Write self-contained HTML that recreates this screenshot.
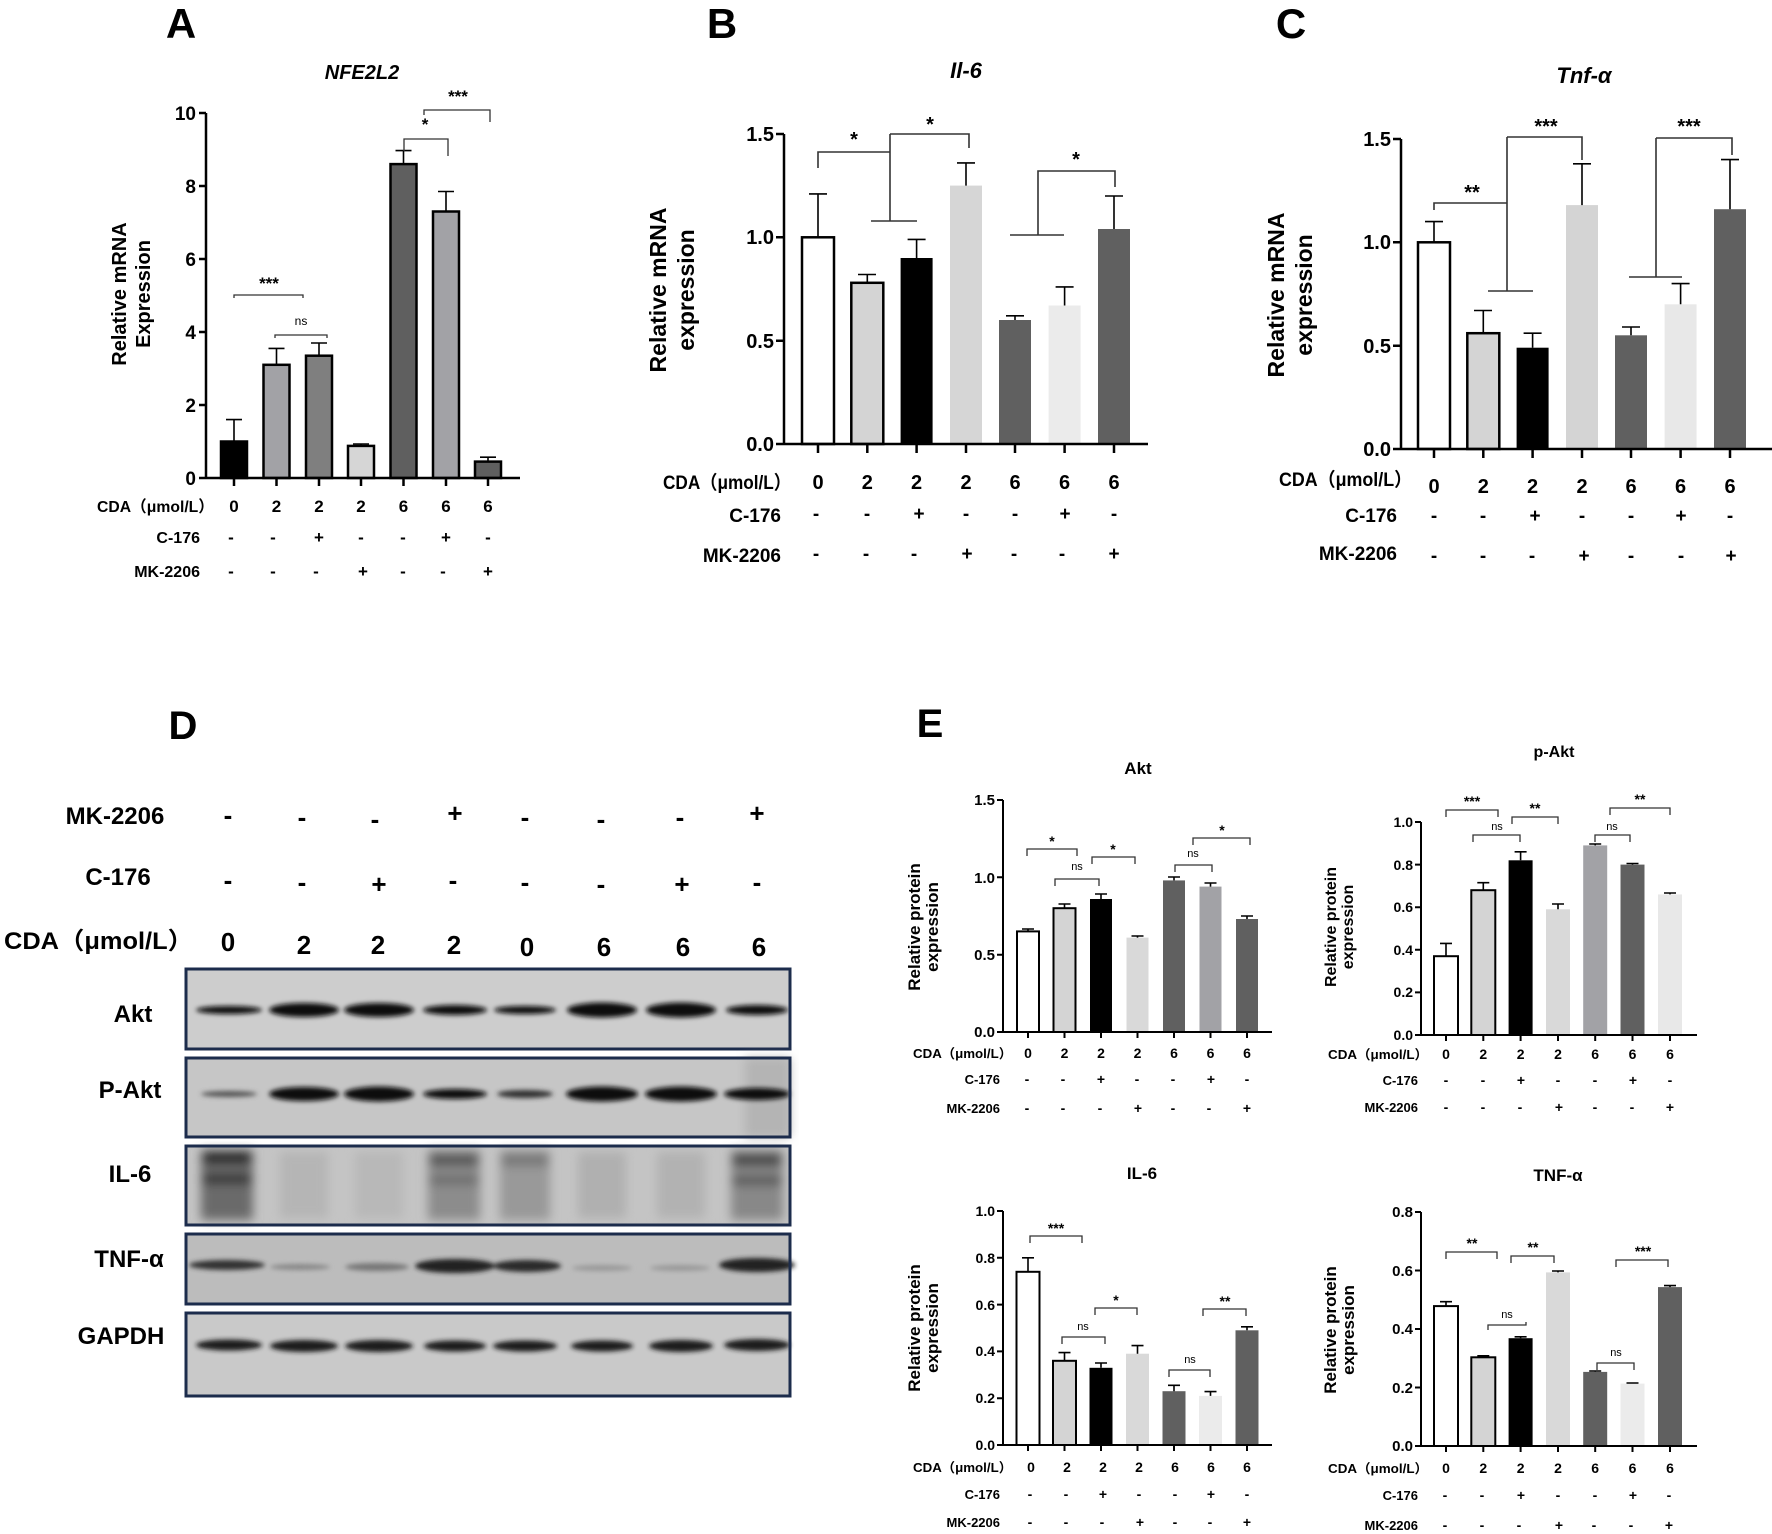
<!DOCTYPE html>
<html><head><meta charset="utf-8"><style>
html,body{margin:0;padding:0;background:#fff}
svg{display:block}
text{font-family:"Liberation Sans","Noto Sans CJK SC",sans-serif;font-weight:bold;fill:#000}
.ax{stroke:#000;stroke-width:2.5;fill:none}
.ln{stroke:#000;stroke-width:1.6;fill:none}
.br{stroke:#333;stroke-width:1.3;fill:none}
</style></head><body>
<svg width="1772" height="1534" viewBox="0 0 1772 1534" xmlns="http://www.w3.org/2000/svg">
<defs>
<filter id="bl" x="-20%" y="-100%" width="140%" height="300%"><feGaussianBlur stdDeviation="2.5"/></filter>
<filter id="bl2" x="-20%" y="-100%" width="140%" height="300%"><feGaussianBlur stdDeviation="5"/></filter>
</defs>

<!-- ========== A ========== -->
<text x="181" y="38" font-size="42" text-anchor="middle">A</text>
<text x="362" y="79" font-size="20" font-style="italic" text-anchor="middle">NFE2L2</text>
<g transform="translate(132,294) rotate(-90)"><text x="0" y="-6" font-size="20" text-anchor="middle">Relative mRNA</text><text x="0" y="18" font-size="20" text-anchor="middle">Expression</text></g>
<g>
<rect x="221" y="441.5" width="26" height="36.5" fill="#000" stroke="#000" stroke-width="2.5"/>
<rect x="263.5" y="364.8" width="26" height="113.2" fill="#a2a2a6" stroke="#000" stroke-width="2.5"/>
<rect x="306" y="355.7" width="26" height="122.3" fill="#7f7f7f" stroke="#000" stroke-width="2.5"/>
<rect x="348" y="445.9" width="26" height="32.1" fill="#d6d6d6" stroke="#000" stroke-width="2.5"/>
<rect x="390.5" y="164.1" width="26" height="313.9" fill="#5f5f5f" stroke="#000" stroke-width="2.5"/>
<rect x="433" y="211.5" width="26" height="266.5" fill="#a2a2a6" stroke="#000" stroke-width="2.5"/>
<rect x="475" y="461.6" width="26" height="16.4" fill="#5f5f5f" stroke="#000" stroke-width="2.5"/>
<path class="ln" d="M234 441.5V419.6M226 419.6H242 M276.5 364.8V348.4M268.5 348.4H284.5 M319 355.7V343M311 343H327 M361 445.9V444M353 444H369 M403.5 164.1V150.6M395.5 150.6H411.5 M446 211.5V191.5M438 191.5H454 M488 461.6V457.2M480 457.2H496"/>
</g>
<path class="ax" d="M206 113V478H520 M199 478H206M199 405H206M199 332H206M199 259H206M199 186H206M199 113H206 M234 478V486M276.5 478V486M319 478V486M361 478V486M403.5 478V486M446 478V486M488 478V486"/>
<g font-size="19" text-anchor="end"><text x="196" y="485">0</text><text x="196" y="412">2</text><text x="196" y="339">4</text><text x="196" y="266">6</text><text x="196" y="193">8</text><text x="196" y="120">10</text></g>
<path class="br" d="M234 298V295H303V298 M275 338V335H327V338 M404 151V139H448V156 M424 115V110H490V122"/>
<g font-size="17" text-anchor="middle"><text x="269" y="289">***</text><text x="425" y="130">*</text><text x="458" y="102">***</text></g>
<text x="301" y="325" font-size="12" text-anchor="middle" style="font-weight:normal">ns</text>
<g font-size="16" text-anchor="end"><text x="214" y="512" textLength="117" lengthAdjust="spacingAndGlyphs">CDA（μmol/L）</text><text x="200" y="543">C-176</text><text x="200" y="577">MK-2206</text></g>
<g font-size="17" text-anchor="middle"><text x="234" y="512">0</text><text x="276.5" y="512">2</text><text x="319" y="512">2</text><text x="361" y="512">2</text><text x="403.5" y="512">6</text><text x="446" y="512">6</text><text x="488" y="512">6</text>
<text x="231" y="543">-</text><text x="273" y="543">-</text><text x="319" y="543">+</text><text x="361" y="543">-</text><text x="403" y="543">-</text><text x="446" y="543">+</text><text x="488" y="543">-</text>
<text x="231" y="577">-</text><text x="273" y="577">-</text><text x="316" y="577">-</text><text x="363" y="577">+</text><text x="403" y="577">-</text><text x="443" y="577">-</text><text x="488" y="577">+</text></g>

<!-- ========== B ========== -->
<text x="722" y="38" font-size="42" text-anchor="middle">B</text>
<text x="966" y="78" font-size="22" font-style="italic" text-anchor="middle">Il-6</text>
<g transform="translate(672,290) rotate(-90)"><text x="0" y="-6" font-size="23" text-anchor="middle">Relative mRNA</text><text x="0" y="22" font-size="23" text-anchor="middle">expression</text></g>
<rect x="802" y="237.3" width="32" height="206.7" fill="#fff" stroke="#000" stroke-width="2.5"/>
<rect x="851.3" y="282.8" width="32" height="161.2" fill="#d4d4d4" stroke="#000" stroke-width="2.5"/>
<rect x="900.6" y="258" width="32" height="186" fill="#000"/>
<rect x="950" y="185.6" width="32" height="258.4" fill="#d6d6d6"/>
<rect x="999" y="320" width="32" height="124" fill="#606060"/>
<rect x="1048.6" y="305.5" width="32" height="138.5" fill="#ebebeb"/>
<rect x="1098" y="229" width="32" height="215" fill="#606060"/>
<path class="ln" d="M818 237.3V193.9M809 193.9H827 M867.3 282.8V274.5M858 274.5H876 M916.6 258V239.4M907.6 239.4H925.6 M966 185.6V162.9M957 162.9H975 M1015 320V315.8M1006 315.8H1024 M1064.6 305.5V286.9M1055.6 286.9H1073.6 M1114 229V196M1105 196H1123"/>
<path class="ax" d="M784 134V444H1148 M776 444H784M776 340.7H784M776 237.3H784M776 134H784 M818 444V453M867.3 444V453M916.6 444V453M966 444V453M1015 444V453M1064.6 444V453M1114 444V453"/>
<g font-size="20" text-anchor="end"><text x="774" y="451">0.0</text><text x="774" y="348">0.5</text><text x="774" y="244">1.0</text><text x="774" y="141">1.5</text></g>
<path class="br" d="M818 168V152H890 M890 134V221M871 221H917 M890 134H969V148 M1010 235H1064M1038 235V171H1115V187" style="stroke-width:1.6"/>
<g font-size="20" text-anchor="middle"><text x="854" y="146">*</text><text x="930" y="131">*</text><text x="1076" y="166">*</text></g>
<g font-size="19" text-anchor="end"><text x="791" y="489" textLength="128" lengthAdjust="spacingAndGlyphs">CDA（μmol/L）</text><text x="781" y="522">C-176</text><text x="781" y="562">MK-2206</text></g>
<g font-size="20" text-anchor="middle"><text x="818" y="489">0</text><text x="867.3" y="489">2</text><text x="916.6" y="489">2</text><text x="966" y="489">2</text><text x="1015" y="489">6</text><text x="1064.6" y="489">6</text><text x="1114" y="489">6</text></g>
<g font-size="19" text-anchor="middle"><text x="816" y="520">-</text><text x="867" y="520">-</text><text x="919" y="520">+</text><text x="966" y="520">-</text><text x="1015" y="520">-</text><text x="1065" y="520">+</text><text x="1114" y="520">-</text>
<text x="816" y="560">-</text><text x="866" y="560">-</text><text x="914" y="560">-</text><text x="967" y="560">+</text><text x="1014" y="560">-</text><text x="1062" y="560">-</text><text x="1114" y="560">+</text></g>

<!-- ========== C ========== -->
<text x="1291" y="38" font-size="42" text-anchor="middle">C</text>
<text x="1584" y="83" font-size="22" font-style="italic" text-anchor="middle">Tnf-α</text>
<g transform="translate(1290,295) rotate(-90)"><text x="0" y="-6" font-size="23" text-anchor="middle">Relative mRNA</text><text x="0" y="22" font-size="23" text-anchor="middle">expression</text></g>
<rect x="1418" y="242.3" width="32" height="206.7" fill="#fff" stroke="#000" stroke-width="2.5"/>
<rect x="1467.3" y="333.2" width="32" height="115.8" fill="#d4d4d4" stroke="#000" stroke-width="2.5"/>
<rect x="1516.6" y="347.7" width="32" height="101.3" fill="#000"/>
<rect x="1566" y="205.1" width="32" height="243.9" fill="#d4d4d4"/>
<rect x="1615" y="335.3" width="32" height="113.7" fill="#606060"/>
<rect x="1664.6" y="304.3" width="32" height="144.7" fill="#e8e8e8"/>
<rect x="1714" y="209.2" width="32" height="239.8" fill="#606060"/>
<path class="ln" d="M1434 242.3V221.6M1425 221.6H1443 M1483.3 333.2V310.5M1474 310.5H1492 M1532.6 347.7V333.2M1523.6 333.2H1541.6 M1582 205.1V163.8M1573 163.8H1591 M1631 335.3V327M1622 327H1640 M1680.6 304.3V283.6M1671.6 283.6H1689.6 M1730 209.2V159.6M1721 159.6H1739"/>
<path class="ax" d="M1401 139V449H1772 M1393 449H1401M1393 345.7H1401M1393 242.3H1401M1393 139H1401 M1434 449V458M1483.3 449V458M1532.6 449V458M1582 449V458M1631 449V458M1680.6 449V458M1730 449V458"/>
<g font-size="20" text-anchor="end"><text x="1391" y="456">0.0</text><text x="1391" y="353">0.5</text><text x="1391" y="249">1.0</text><text x="1391" y="146">1.5</text></g>
<path class="br" d="M1434 210V203H1507 M1507 137V291M1488 291H1533 M1507 137H1582V160 M1656 138V277M1629 277H1682 M1656 138H1732V155" style="stroke-width:1.6"/>
<g font-size="20" text-anchor="middle"><text x="1472" y="199">**</text><text x="1546" y="133">***</text><text x="1689" y="133">***</text></g>
<g font-size="19" text-anchor="end"><text x="1412" y="486" textLength="133" lengthAdjust="spacingAndGlyphs">CDA（μmol/L）</text><text x="1397" y="522">C-176</text><text x="1397" y="560">MK-2206</text></g>
<g font-size="20" text-anchor="middle"><text x="1434" y="493">0</text><text x="1483.3" y="493">2</text><text x="1532.6" y="493">2</text><text x="1582" y="493">2</text><text x="1631" y="493">6</text><text x="1680.6" y="493">6</text><text x="1730" y="493">6</text></g>
<g font-size="19" text-anchor="middle"><text x="1434" y="522">-</text><text x="1483" y="522">-</text><text x="1535" y="522">+</text><text x="1582" y="522">-</text><text x="1631" y="522">-</text><text x="1681" y="522">+</text><text x="1730" y="522">-</text>
<text x="1434" y="562">-</text><text x="1483" y="562">-</text><text x="1532" y="562">-</text><text x="1584" y="562">+</text><text x="1631" y="562">-</text><text x="1681" y="562">-</text><text x="1731" y="562">+</text></g>

<!-- ========== D ========== -->
<text x="183" y="739" font-size="40" text-anchor="middle">D</text>
<g font-size="24" text-anchor="middle"><text x="115" y="824">MK-2206</text><text x="118" y="885">C-176</text></g>
<text x="4" y="949" font-size="24" textLength="189" lengthAdjust="spacingAndGlyphs">CDA（μmol/L）</text>
<g font-size="26" text-anchor="middle">
<text x="228" y="824">-</text><text x="302" y="826">-</text><text x="375" y="828">-</text><text x="455" y="822">+</text><text x="525" y="826">-</text><text x="601" y="828">-</text><text x="680" y="826">-</text><text x="757" y="822">+</text>
<text x="228" y="889">-</text><text x="302" y="891">-</text><text x="379" y="893">+</text><text x="453" y="889">-</text><text x="525" y="891">-</text><text x="601" y="893">-</text><text x="682" y="893">+</text><text x="757" y="891">-</text>
<text x="228" y="951">0</text><text x="304" y="954">2</text><text x="378" y="954">2</text><text x="454" y="954">2</text><text x="527" y="956">0</text><text x="604" y="956">6</text><text x="683" y="956">6</text><text x="759" y="956">6</text></g>
<g font-size="24" text-anchor="middle"><text x="133" y="1022">Akt</text><text x="130" y="1098">P-Akt</text><text x="130" y="1182">IL-6</text><text x="129" y="1267">TNF-α</text><text x="121" y="1344">GAPDH</text></g>
<!-- blots -->
<rect x="186" y="969" width="604" height="80" fill="#cdcdcd"/>
<g fill="#111" filter="url(#bl)">
<ellipse cx="229" cy="1010" rx="33" ry="4"/><ellipse cx="304" cy="1010" rx="35" ry="7"/><ellipse cx="379" cy="1010" rx="35" ry="7"/><ellipse cx="455" cy="1010" rx="32" ry="5"/><ellipse cx="525" cy="1010" rx="31" ry="4"/><ellipse cx="602" cy="1010" rx="35" ry="7.5"/><ellipse cx="681" cy="1010" rx="35" ry="7.5"/><ellipse cx="757" cy="1010" rx="31" ry="5"/></g>
<rect x="186" y="969" width="604" height="80" fill="none" stroke="#1c2c4c" stroke-width="3"/>
<rect x="186" y="1058" width="604" height="79" fill="#c6c6c6"/>
<rect x="745" y="1058" width="45" height="79" fill="#b4b4b4" filter="url(#bl2)"/>
<g fill="#111" filter="url(#bl)">
<ellipse cx="229" cy="1094" rx="28" ry="3" fill="#555"/><ellipse cx="304" cy="1094" rx="35" ry="7"/><ellipse cx="379" cy="1094" rx="35" ry="7.5"/><ellipse cx="455" cy="1094" rx="32" ry="5"/><ellipse cx="525" cy="1094" rx="28" ry="4" fill="#333"/><ellipse cx="602" cy="1094" rx="36" ry="7.5"/><ellipse cx="681" cy="1094" rx="36" ry="7.5"/><ellipse cx="757" cy="1094" rx="33" ry="6"/></g>
<rect x="186" y="1058" width="604" height="79" fill="none" stroke="#1c2c4c" stroke-width="3"/>
<rect x="186" y="1146" width="604" height="79" fill="#c4c4c4"/>
<g filter="url(#bl2)">
<rect x="201" y="1150" width="52" height="70" fill="#6a6a6a"/><rect x="203" y="1152" width="48" height="12" fill="#222"/><rect x="203" y="1174" width="48" height="10" fill="#333"/>
<rect x="280" y="1152" width="48" height="66" fill="#b5b5b5"/><rect x="355" y="1152" width="48" height="66" fill="#b8b8b8"/>
<rect x="428" y="1150" width="52" height="70" fill="#8c8c8c"/><rect x="430" y="1154" width="48" height="12" fill="#555"/><rect x="430" y="1176" width="48" height="8" fill="#666"/>
<rect x="500" y="1150" width="50" height="70" fill="#999"/><rect x="502" y="1154" width="46" height="12" fill="#777"/>
<rect x="578" y="1152" width="48" height="66" fill="#b0b0b0"/><rect x="657" y="1152" width="48" height="66" fill="#b2b2b2"/>
<rect x="731" y="1150" width="52" height="70" fill="#888"/><rect x="733" y="1154" width="48" height="12" fill="#444"/><rect x="733" y="1176" width="48" height="9" fill="#555"/></g>
<rect x="186" y="1146" width="604" height="79" fill="none" stroke="#1c2c4c" stroke-width="3"/>
<rect x="186" y="1234" width="604" height="70" fill="#bcbcbc"/>
<g filter="url(#bl)">
<ellipse cx="227" cy="1265" rx="38" ry="5" fill="#333"/><ellipse cx="300" cy="1267" rx="30" ry="3" fill="#888"/><ellipse cx="377" cy="1267" rx="32" ry="4" fill="#777"/><ellipse cx="455" cy="1266" rx="40" ry="7" fill="#222"/><ellipse cx="527" cy="1266" rx="34" ry="6" fill="#2a2a2a"/><ellipse cx="602" cy="1268" rx="30" ry="3" fill="#999"/><ellipse cx="680" cy="1268" rx="30" ry="3" fill="#999"/><ellipse cx="757" cy="1265" rx="38" ry="7" fill="#222"/></g>
<rect x="186" y="1234" width="604" height="70" fill="none" stroke="#1c2c4c" stroke-width="3"/>
<rect x="186" y="1313" width="604" height="83" fill="#c9c9c9"/>
<g fill="#1a1a1a" filter="url(#bl)">
<ellipse cx="229" cy="1345" rx="33" ry="5.5"/><ellipse cx="304" cy="1346" rx="34" ry="6"/><ellipse cx="379" cy="1346" rx="34" ry="6"/><ellipse cx="455" cy="1346" rx="31" ry="5.5"/><ellipse cx="525" cy="1346" rx="32" ry="5.5"/><ellipse cx="602" cy="1346" rx="31" ry="5.5"/><ellipse cx="681" cy="1346" rx="32" ry="6"/><ellipse cx="757" cy="1345" rx="33" ry="6"/></g>
<rect x="186" y="1313" width="604" height="83" fill="none" stroke="#1c2c4c" stroke-width="3"/>

<!-- ========== E ========== -->
<text x="930" y="737" font-size="40" text-anchor="middle">E</text>
<!-- Akt -->
<text x="1138" y="774" font-size="17" text-anchor="middle">Akt</text>
<g transform="translate(924,927) rotate(-90)"><text x="0" y="-4" font-size="17" text-anchor="middle">Relative protein</text><text x="0" y="14" font-size="17" text-anchor="middle">expression</text></g>
<rect x="1017" y="931.4" width="22" height="100.6" fill="#fff" stroke="#000" stroke-width="2"/>
<rect x="1053.5" y="908.2" width="22" height="123.8" fill="#d4d4d4" stroke="#000" stroke-width="2"/>
<rect x="1090" y="899" width="22" height="133" fill="#000"/>
<rect x="1126.5" y="937.6" width="22" height="94.4" fill="#d9d9d9"/>
<rect x="1163" y="880.4" width="22" height="151.6" fill="#606060"/>
<rect x="1199.5" y="886.6" width="22" height="145.4" fill="#a2a2a6"/>
<rect x="1236" y="919" width="22" height="113" fill="#606060"/>
<path class="ln" d="M1028 931.4V929M1022 929H1034 M1064.5 908.2V904M1058.5 904H1070.5 M1101 899V894M1095 894H1107 M1137.5 937.6V936M1131.5 936H1143.5 M1174 880.4V877M1168 877H1180 M1210.5 886.6V883M1204.5 883H1216.5 M1247 919V916M1241 916H1253"/>
<path class="ax" style="stroke-width:2" d="M1003 800V1032H1272 M997 1032H1003M997 954.7H1003M997 877.3H1003M997 800H1003 M1028 1032V1038M1064.5 1032V1038M1101 1032V1038M1137.5 1032V1038M1174 1032V1038M1210.5 1032V1038M1247 1032V1038"/>
<g font-size="15" text-anchor="end"><text x="995" y="1037">0.0</text><text x="995" y="960">0.5</text><text x="995" y="883">1.0</text><text x="995" y="805">1.5</text></g>
<path class="br" d="M1027 856V849H1077V856 M1055 886V879H1099V886 M1092 864V857H1135V864 M1175 872V865H1212V872 M1193 845V838H1250V845"/>
<g font-size="14" text-anchor="middle"><text x="1052" y="846">*</text><text x="1113" y="854">*</text><text x="1222" y="835">*</text></g>
<g font-size="11" text-anchor="middle"><text x="1077" y="870" style="font-weight:normal">ns</text><text x="1193" y="857" style="font-weight:normal">ns</text></g>
<g font-size="13" text-anchor="end"><text x="1012" y="1058" textLength="99" lengthAdjust="spacingAndGlyphs">CDA（μmol/L）</text><text x="1000" y="1084">C-176</text><text x="1000" y="1113">MK-2206</text></g>
<g font-size="14" text-anchor="middle"><text x="1028" y="1058">0</text><text x="1064.5" y="1058">2</text><text x="1101" y="1058">2</text><text x="1137.5" y="1058">2</text><text x="1174" y="1058">6</text><text x="1210.5" y="1058">6</text><text x="1247" y="1058">6</text>
<text x="1027" y="1084">-</text><text x="1063" y="1084">-</text><text x="1101" y="1084">+</text><text x="1137" y="1084">-</text><text x="1173" y="1084">-</text><text x="1211" y="1084">+</text><text x="1247" y="1084">-</text>
<text x="1027" y="1113">-</text><text x="1063" y="1113">-</text><text x="1100" y="1113">-</text><text x="1138" y="1113">+</text><text x="1173" y="1113">-</text><text x="1209" y="1113">-</text><text x="1247" y="1113">+</text></g>

<!-- p-Akt -->
<text x="1554" y="757" font-size="16" text-anchor="middle">p-Akt</text>
<g transform="translate(1340,927) rotate(-90)"><text x="0" y="-4" font-size="16" text-anchor="middle">Relative protein</text><text x="0" y="13" font-size="16" text-anchor="middle">expression</text></g>
<rect x="1434" y="956.2" width="24" height="78.8" fill="#fff" stroke="#000" stroke-width="2"/>
<rect x="1471.3" y="890.2" width="24" height="144.8" fill="#d4d4d4" stroke="#000" stroke-width="2"/>
<rect x="1508.6" y="860.3" width="24" height="174.7" fill="#000"/>
<rect x="1546" y="909.3" width="24" height="125.7" fill="#d9d9d9"/>
<rect x="1583.2" y="845.4" width="24" height="189.6" fill="#a2a2a6"/>
<rect x="1620.5" y="864.6" width="24" height="170.4" fill="#606060"/>
<rect x="1658" y="894.4" width="24" height="140.6" fill="#e8e8e8"/>
<path class="ln" d="M1446 956.2V943.4M1440 943.4H1452 M1483.3 890.2V882.7M1477.3 882.7H1489.3 M1520.6 860.3V851.8M1514.6 851.8H1526.6 M1558 909.3V904M1552 904H1564 M1595.2 845.4V844M1589.2 844H1601.2 M1632.5 864.6V863.5M1626.5 863.5H1638.5 M1670 894.4V893M1664 893H1676"/>
<path class="ax" style="stroke-width:2" d="M1421 822V1035H1697 M1415 1035H1421M1415 992.4H1421M1415 949.8H1421M1415 907.2H1421M1415 864.6H1421M1415 822H1421 M1446 1035V1041M1483.3 1035V1041M1520.6 1035V1041M1558 1035V1041M1595.2 1035V1041M1632.5 1035V1041M1670 1035V1041"/>
<g font-size="14" text-anchor="end"><text x="1413" y="1040">0.0</text><text x="1413" y="997">0.2</text><text x="1413" y="955">0.4</text><text x="1413" y="912">0.6</text><text x="1413" y="870">0.8</text><text x="1413" y="827">1.0</text></g>
<path class="br" d="M1446 817V810H1498V817 M1473 842V835H1520V842 M1512 824V817H1558V824 M1595 842V835H1630V842 M1610 815V808H1670V815"/>
<g font-size="14" text-anchor="middle"><text x="1472" y="806">***</text><text x="1535" y="813">**</text><text x="1640" y="804">**</text></g>
<g font-size="11" text-anchor="middle"><text x="1497" y="830" style="font-weight:normal">ns</text><text x="1612" y="830" style="font-weight:normal">ns</text></g>
<g font-size="13" text-anchor="end"><text x="1428" y="1059" textLength="100" lengthAdjust="spacingAndGlyphs">CDA（μmol/L）</text><text x="1418" y="1085">C-176</text><text x="1418" y="1112">MK-2206</text></g>
<g font-size="14" text-anchor="middle"><text x="1446" y="1059">0</text><text x="1483.3" y="1059">2</text><text x="1520.6" y="1059">2</text><text x="1558" y="1059">2</text><text x="1595.2" y="1059">6</text><text x="1632.5" y="1059">6</text><text x="1670" y="1059">6</text>
<text x="1446" y="1085">-</text><text x="1483" y="1085">-</text><text x="1521" y="1085">+</text><text x="1558" y="1085">-</text><text x="1595" y="1085">-</text><text x="1633" y="1085">+</text><text x="1670" y="1085">-</text>
<text x="1446" y="1112">-</text><text x="1483" y="1112">-</text><text x="1520" y="1112">-</text><text x="1559" y="1112">+</text><text x="1595" y="1112">-</text><text x="1632" y="1112">-</text><text x="1670" y="1112">+</text></g>

<!-- IL-6 -->
<text x="1142" y="1179" font-size="17" text-anchor="middle">IL-6</text>
<g transform="translate(924,1328) rotate(-90)"><text x="0" y="-4" font-size="17" text-anchor="middle">Relative protein</text><text x="0" y="14" font-size="17" text-anchor="middle">expression</text></g>
<rect x="1016.5" y="1271.8" width="23" height="173.2" fill="#fff" stroke="#000" stroke-width="2"/>
<rect x="1053" y="1360.8" width="23" height="84.2" fill="#d4d4d4" stroke="#000" stroke-width="2"/>
<rect x="1089.5" y="1367.8" width="23" height="77.2" fill="#000"/>
<rect x="1126" y="1353.7" width="23" height="91.3" fill="#d9d9d9"/>
<rect x="1162.5" y="1391.2" width="23" height="53.8" fill="#606060"/>
<rect x="1199" y="1395.9" width="23" height="49.1" fill="#ebebeb"/>
<rect x="1235.5" y="1330.3" width="23" height="114.7" fill="#606060"/>
<path class="ln" d="M1028 1271.8V1257.8M1022 1257.8H1034 M1064.5 1360.8V1352.6M1058.5 1352.6H1070.5 M1101 1367.8V1363M1095 1363H1107 M1137.5 1353.7V1345.6M1131.5 1345.6H1143.5 M1174 1391.2V1385.3M1168 1385.3H1180 M1210.5 1395.9V1391.6M1204.5 1391.6H1216.5 M1247 1330.3V1326.8M1241 1326.8H1253"/>
<path class="ax" style="stroke-width:2" d="M1003 1211V1445H1272 M997 1445H1003M997 1398.2H1003M997 1351.4H1003M997 1304.6H1003M997 1257.8H1003M997 1211H1003 M1028 1445V1451M1064.5 1445V1451M1101 1445V1451M1137.5 1445V1451M1174 1445V1451M1210.5 1445V1451M1247 1445V1451"/>
<g font-size="14" text-anchor="end"><text x="995" y="1450">0.0</text><text x="995" y="1403">0.2</text><text x="995" y="1356">0.4</text><text x="995" y="1310">0.6</text><text x="995" y="1263">0.8</text><text x="995" y="1216">1.0</text></g>
<path class="br" d="M1030 1243V1236H1082V1243 M1062 1344V1337H1105V1344 M1095 1315V1308H1137V1315 M1169 1377V1370H1210V1377 M1203 1316V1309H1246V1316"/>
<g font-size="14" text-anchor="middle"><text x="1056" y="1233">***</text><text x="1116" y="1305">*</text><text x="1225" y="1306">**</text></g>
<g font-size="11" text-anchor="middle"><text x="1083" y="1330" style="font-weight:normal">ns</text><text x="1190" y="1363" style="font-weight:normal">ns</text></g>
<g font-size="13" text-anchor="end"><text x="1012" y="1472" textLength="99" lengthAdjust="spacingAndGlyphs">CDA（μmol/L）</text><text x="1000" y="1499">C-176</text><text x="1000" y="1527">MK-2206</text></g>
<g font-size="14" text-anchor="middle"><text x="1031" y="1472">0</text><text x="1067" y="1472">2</text><text x="1103" y="1472">2</text><text x="1139" y="1472">2</text><text x="1175" y="1472">6</text><text x="1211" y="1472">6</text><text x="1247" y="1472">6</text>
<text x="1030" y="1499">-</text><text x="1066" y="1499">-</text><text x="1103" y="1499">+</text><text x="1139" y="1499">-</text><text x="1175" y="1499">-</text><text x="1211" y="1499">+</text><text x="1247" y="1499">-</text>
<text x="1030" y="1527">-</text><text x="1066" y="1527">-</text><text x="1102" y="1527">-</text><text x="1140" y="1527">+</text><text x="1175" y="1527">-</text><text x="1210" y="1527">-</text><text x="1247" y="1527">+</text></g>

<!-- TNF-a -->
<text x="1558" y="1181" font-size="17" text-anchor="middle">TNF-α</text>
<g transform="translate(1340,1330) rotate(-90)"><text x="0" y="-4" font-size="17" text-anchor="middle">Relative protein</text><text x="0" y="14" font-size="17" text-anchor="middle">expression</text></g>
<rect x="1434" y="1306.1" width="24" height="139.9" fill="#fff" stroke="#000" stroke-width="2"/>
<rect x="1471.3" y="1357.3" width="24" height="88.7" fill="#d4d4d4" stroke="#000" stroke-width="2"/>
<rect x="1508.6" y="1338.2" width="24" height="107.8" fill="#000"/>
<rect x="1546" y="1272.4" width="24" height="173.6" fill="#d9d9d9"/>
<rect x="1583.2" y="1371.9" width="24" height="74.1" fill="#606060"/>
<rect x="1620.5" y="1383.6" width="24" height="62.4" fill="#ebebeb"/>
<rect x="1658" y="1287.1" width="24" height="158.9" fill="#606060"/>
<path class="ln" d="M1446 1306.1V1301.7M1440 1301.7H1452 M1483.3 1357.3V1355.8M1477.3 1355.8H1489.3 M1520.6 1338.2V1336.8M1514.6 1336.8H1526.6 M1558 1272.4V1271M1552 1271H1564 M1595.2 1371.9V1371M1589.2 1371H1601.2 M1632.5 1383.6V1383M1626.5 1383H1638.5 M1670 1287.1V1285.6M1664 1285.6H1676"/>
<path class="ax" style="stroke-width:2" d="M1421 1212V1446H1697 M1415 1446H1421M1415 1387.5H1421M1415 1329H1421M1415 1270.5H1421M1415 1212H1421 M1446 1446V1452M1483.3 1446V1452M1520.6 1446V1452M1558 1446V1452M1595.2 1446V1452M1632.5 1446V1452M1670 1446V1452"/>
<g font-size="15" text-anchor="end"><text x="1413" y="1451">0.0</text><text x="1413" y="1393">0.2</text><text x="1413" y="1334">0.4</text><text x="1413" y="1276">0.6</text><text x="1413" y="1217">0.8</text></g>
<path class="br" d="M1446 1259V1252H1497V1259 M1511 1263V1256H1554V1263 M1488 1330V1325H1526V1322 M1597 1370V1363H1634V1370 M1616 1267V1260H1668V1267"/>
<g font-size="14" text-anchor="middle"><text x="1472" y="1248">**</text><text x="1533" y="1252">**</text><text x="1643" y="1256">***</text></g>
<g font-size="11" text-anchor="middle"><text x="1507" y="1318" style="font-weight:normal">ns</text><text x="1616" y="1356" style="font-weight:normal">ns</text></g>
<g font-size="13" text-anchor="end"><text x="1428" y="1473" textLength="100" lengthAdjust="spacingAndGlyphs">CDA（μmol/L）</text><text x="1418" y="1500">C-176</text><text x="1418" y="1530">MK-2206</text></g>
<g font-size="14" text-anchor="middle"><text x="1446" y="1473">0</text><text x="1483.3" y="1473">2</text><text x="1520.6" y="1473">2</text><text x="1558" y="1473">2</text><text x="1595.2" y="1473">6</text><text x="1632.5" y="1473">6</text><text x="1670" y="1473">6</text>
<text x="1445" y="1500">-</text><text x="1482" y="1500">-</text><text x="1521" y="1500">+</text><text x="1558" y="1500">-</text><text x="1595" y="1500">-</text><text x="1633" y="1500">+</text><text x="1669" y="1500">-</text>
<text x="1445" y="1530">-</text><text x="1482" y="1530">-</text><text x="1519" y="1530">-</text><text x="1559" y="1530">+</text><text x="1594" y="1530">-</text><text x="1631" y="1530">-</text><text x="1669" y="1530">+</text></g>
</svg>
</body></html>
